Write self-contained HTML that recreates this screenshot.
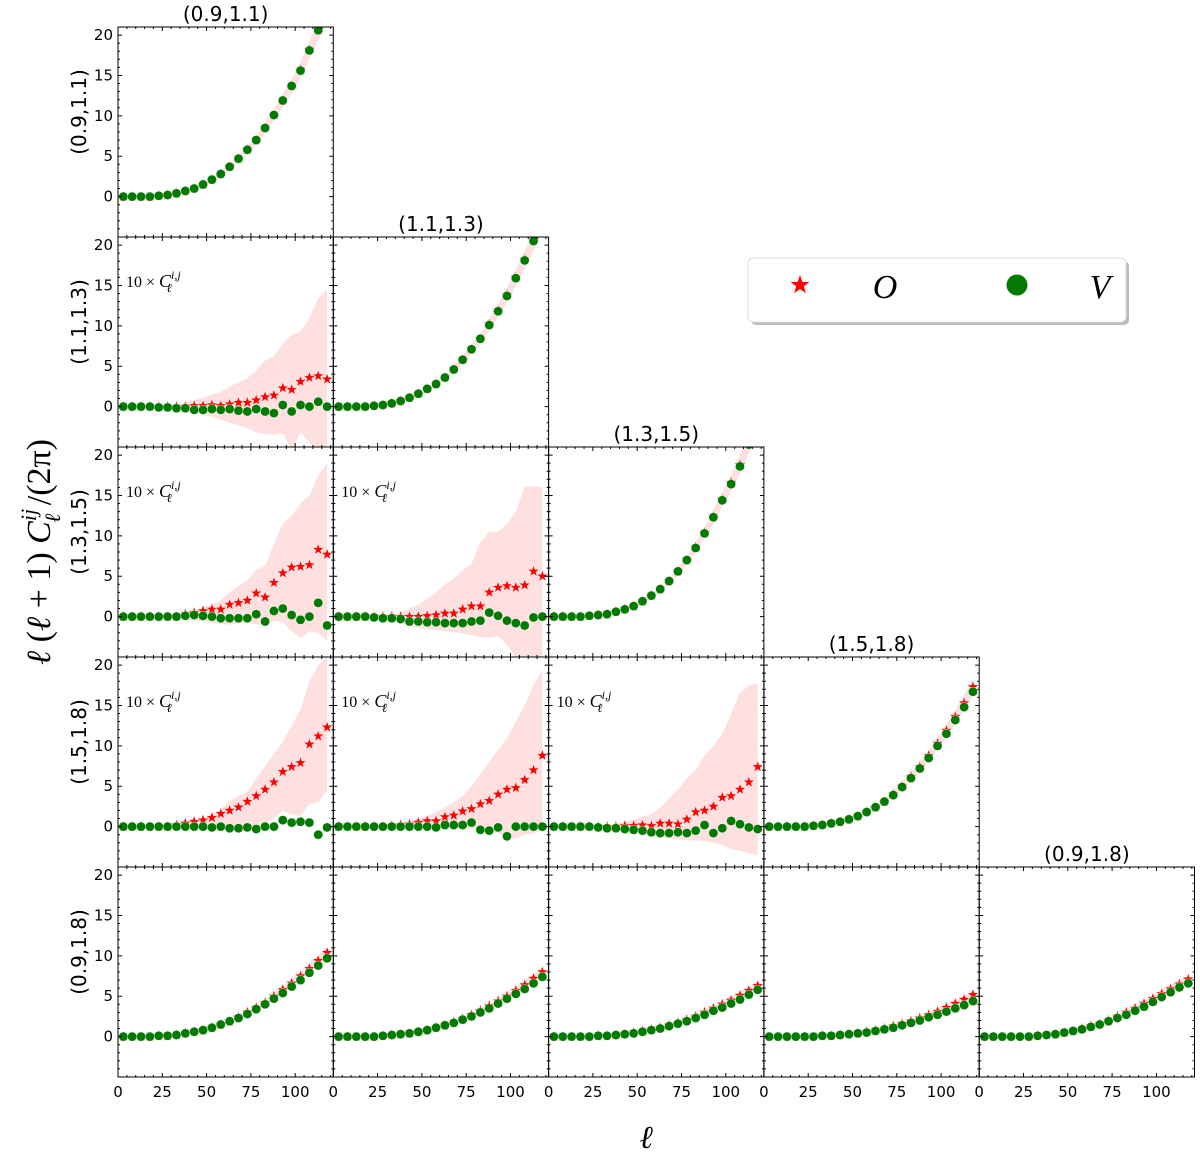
<!DOCTYPE html>
<html><head><meta charset="utf-8"><style>
body{margin:0;background:#fff}
svg text{font-family:"DejaVu Sans","Liberation Sans",sans-serif}
.serif{font-family:"Liberation Serif","DejaVu Serif",serif !important}
</style></head><body>
<svg id="fig" width="1200" height="1164" viewBox="0 0 1200 1164" xmlns="http://www.w3.org/2000/svg">
<g id="bands"></g>
<g id="legend">
<rect x="751" y="261" width="378" height="64" rx="5" fill="#bbb"/>
<rect x="748" y="258" width="378" height="64" rx="5" fill="#fff" stroke="#ddd"/>
<polygon points="800,275 802.4,282 809.5,282 803.8,286.3 805.9,293.2 800,289 794.1,293.2 796.2,286.3 790.5,282 797.6,282" fill="#f00"/>
<text class="serif" x="885" y="298" font-size="34" font-style="italic" text-anchor="middle">O</text>
<circle cx="1017" cy="285" r="10.5" fill="#007a00"/>
<text class="serif" x="1100" y="298" font-size="34" font-style="italic" text-anchor="middle">V</text>
</g>
<text class="serif" transform="translate(50,552) rotate(-90)" font-size="34" text-anchor="middle" font-style="italic">ℓ<tspan font-style="normal"> (</tspan>ℓ<tspan font-style="normal"> + 1) </tspan>C<tspan font-size="22" dy="-14">ij</tspan><tspan font-size="22" dx="-14" dy="24">ℓ</tspan><tspan font-style="normal" dy="-10"> /(2π)</tspan></text>
<text class="serif" x="646" y="1148" font-size="32" font-style="italic" text-anchor="middle">ℓ</text>
</svg>
<script>
const ells=[3,8,13,18,23,28,33,38,43,48,53,58,63,68,73,78,83,88,93,98,103,108,113,118];
const binLabels=["(0.9,1.1)","(1.1,1.3)","(1.3,1.5)","(1.5,1.8)","(0.9,1.8)"];
const yTicks=[0,5,10,15,20];
const xTicks=[0,25,50,75,100];
const diagRelErr=[0,0,0,0,0.05,0.05,0.05,0.05,0.05,0.05,0.05,0.05,0.05,0.05,0.05,0.05,0.05,0.05,0.05,0.05,0.05,0.05,0.05,0.05];
const O00=[0,0,0,0,0.1,0.2,0.4,0.7,1.0,1.5,2.1,2.8,3.7,4.7,5.8,7.0,8.5,10.1,11.9,13.7,15.7,18.2,20.6,23.5];
const V00=[0,0,0,0,0.1,0.2,0.4,0.7,1.0,1.5,2.1,2.8,3.7,4.7,5.8,7.0,8.5,10.1,11.9,13.7,15.6,18.1,20.6,23.5];
const O11=[0,0,0,0,0.1,0.2,0.4,0.7,1.1,1.6,2.2,2.8,3.6,4.6,5.8,7.1,8.4,10.2,11.9,13.8,16.0,18.2,20.6,23.2];
const V11=[0,0,0,0,0.1,0.2,0.4,0.7,1.1,1.6,2.2,2.8,3.6,4.6,5.8,7.1,8.4,10.1,11.8,13.7,15.9,18.1,20.5,23.1];
const O22=[0,0,0,0,0.1,0.2,0.3,0.6,0.9,1.3,1.9,2.6,3.4,4.4,5.6,7.0,8.6,10.4,12.4,14.5,16.6,18.8,21.5,24.5];
const V22=[0,0,0,0,0.1,0.2,0.3,0.6,0.9,1.3,1.9,2.6,3.4,4.4,5.6,7.0,8.5,10.3,12.3,14.4,16.4,18.6,21.3,24.3];
const O33=[0,0,0,0,0,0.1,0.2,0.4,0.6,0.9,1.3,1.8,2.4,3.1,4.0,5.0,6.2,7.4,8.8,10.3,11.9,13.6,15.3,17.3];
const V33=[0,0,0,0,0,0.1,0.2,0.4,0.6,0.9,1.3,1.8,2.4,3.1,3.9,4.9,6.0,7.2,8.5,10.0,11.5,13.2,14.8,16.7];
const O44=[0,0,0,0,0,0,0.1,0.2,0.3,0.5,0.7,1.0,1.3,1.6,2.0,2.5,3.0,3.5,4.1,4.7,5.3,5.9,6.5,7.1];
const V44=[0,0,0,0,0,0,0.1,0.2,0.3,0.5,0.7,0.9,1.2,1.5,1.9,2.3,2.7,3.2,3.7,4.3,4.9,5.5,6.1,6.6];
const O40=[0,0,0,0,0.1,0.1,0.2,0.4,0.6,0.8,1.1,1.5,1.9,2.4,3.0,3.6,4.2,5.0,5.8,6.6,7.5,8.4,9.4,10.4];
const V40=[0,0,0,0,0.1,0.1,0.2,0.4,0.6,0.8,1.1,1.5,1.9,2.3,2.8,3.4,4.0,4.7,5.4,6.2,7.0,7.9,8.8,9.7];
const O41=[0,0,0,0,0,0.1,0.2,0.3,0.4,0.6,0.8,1.1,1.4,1.8,2.2,2.7,3.2,3.8,4.4,5.0,5.7,6.4,7.2,8.0];
const V41=[0,0,0,0,0,0.1,0.2,0.3,0.4,0.6,0.8,1.1,1.4,1.7,2.1,2.5,3.0,3.5,4.1,4.7,5.3,5.9,6.6,7.4];
const O42=[0,0,0,0,0,0.1,0.1,0.2,0.3,0.5,0.7,0.9,1.1,1.4,1.7,2.1,2.5,3.0,3.5,4.0,4.5,5.1,5.7,6.3];
const V42=[0,0,0,0,0,0.1,0.1,0.2,0.3,0.4,0.6,0.8,1.0,1.3,1.6,1.9,2.3,2.7,3.2,3.6,4.1,4.6,5.2,5.8];
const O43=[0,0,0,0,0,0,0.1,0.1,0.2,0.3,0.4,0.6,0.8,1.0,1.3,1.6,1.9,2.3,2.7,3.1,3.6,4.1,4.6,5.2];
const V43=[0,0,0,0,0,0,0.1,0.1,0.2,0.3,0.4,0.5,0.7,0.9,1.1,1.4,1.7,2.0,2.4,2.7,3.1,3.5,3.9,4.4];
const O10=[0,0,0,0,0,0,0,0,0.1,0.1,0.2,0.1,0.3,0.5,0.5,0.8,1.2,1.4,2.3,2.1,3.1,3.6,3.8,3.4];
const V10=[0,0,0,0,-0.1,-0.1,-0.2,-0.2,-0.4,-0.4,-0.3,-0.4,-0.3,-0.5,-0.6,-0.3,-0.6,-0.8,0.2,-0.6,0.2,0,0.6,0];
const H10=[0,0,0,0,0.1,0.2,0.3,0.5,0.8,1.1,1.5,1.8,2.5,3,3.5,4.5,5.7,6.3,7.8,8.9,9.3,11,13.4,14.5];
const L10=[0,0,0,0,-0.1,-0.2,-0.3,-0.5,-0.7,-1,-1.3,-1.6,-2,-2.3,-2.7,-3.2,-3.4,-3.5,-3.3,-5.5,-3.2,-4.5,-5.5,-5.5];
const O20=[0,0,0,0,0,0,0,0.3,0.5,0.7,0.9,0.9,1.5,1.7,2,2.9,2.4,4.2,5.4,6.1,6.2,6.4,8.3,7.7];
const V20=[0,0,0,0,0,0,0,0.1,0.2,0.1,0,-0.2,-0.2,-0.2,-0.2,0.3,-0.6,0.7,1,0.2,-0.4,0,1.7,-1.1];
const H20=[0,0,0,0,0.1,0.2,0.3,0.5,0.8,1.1,1.5,2,3,3.8,4.5,5.8,6.3,9,11.5,12.5,14,15,17.5,19];
const L20=[0,0,0,0,-0.1,-0.1,-0.2,-0.3,-0.5,-0.6,-0.8,-0.9,-1,-0.8,-0.7,-1,-0.9,-0.5,-0.7,-1.8,-2.7,-1.8,-2,-3];
const O21=[0,0,0,0,0,0,0,0,0,0,0.1,0.2,0.4,0.4,0.9,1.3,1.3,3,3.6,3.8,3.6,3.9,5.6,5];
const V21=[0,0,0,0,-0.1,-0.2,-0.2,-0.3,-0.6,-0.6,-0.7,-0.7,-0.8,-0.8,-0.8,-0.6,-0.5,0.5,0.1,-0.5,-0.8,-1.1,-0.1,0];
const H21=[0,0,0,0,0.1,0.2,0.3,0.5,1,1.5,2.2,3,4,4.7,5.8,6.5,9.2,10.5,10.5,11.5,13,16,16.2,16];
const L21=[0,0,0,0,-0.1,-0.3,-0.5,-0.8,-1.1,-1.4,-1.6,-1.7,-1.8,-1.9,-2.1,-2.3,-2.5,-2.6,-2.4,-3.5,-5,-6,-7,-7];
const O30=[0,0,0,0,0,0,0.2,0.4,0.6,0.8,1.1,1.6,2,2.4,3.1,3.8,4.6,5.5,6.8,7.4,7.9,10.2,11.2,12.3];
const V30=[0,0,0,0,0,0,0,0,0,0,-0.1,0,-0.2,-0.2,-0.1,-0.3,0,0,0.8,0.5,0.6,0.5,-1,-0.1];
const H30=[0,0,0,0,0,0.1,0.2,0.4,0.7,1,1.5,2.2,3.2,3.8,4.3,6,7.5,9,10.5,12.5,14.5,18,20,21];
const L30=[0,0,0,0,0,0,0,-0.1,-0.2,-0.3,-0.4,-0.5,-0.4,-0.5,-0.5,-0.4,0.5,1,2,1.5,1.3,2.8,3,4.5];
const O31=[0,0,0,0,0,0,0.1,0.2,0.3,0.5,0.7,0.7,1.2,1.4,1.9,2.2,2.8,3.2,4.0,4.6,4.8,5.8,7.0,8.8];
const V31=[0,0,0,0,0,0,0,0,0,0,0,-0.1,0.2,0.2,0.2,0.5,-0.4,-0.5,-0.1,-1.2,0,0,0,0];
const H31=[0,0,0,0,0,0.1,0.2,0.4,0.7,1,1.4,1.8,2.4,3,3.8,5,6.5,8,9.5,11,13,15,17.5,19.5];
const L31=[0,0,0,0,0,0,0,0,-0.1,-0.1,-0.1,-0.2,-0.2,-0.2,-0.2,-0.3,-0.3,-0.5,-0.8,-1.5,-1.5,-1,-0.8,-0.5];
const O32=[0,0,0,0,0,0,0,0,0.1,0.1,0.2,0.1,0.4,0.4,0.3,0.9,1.8,2,2.5,3.6,3.8,4.6,5.5,7.4];
const V32=[0,0,0,0,0,-0.1,-0.2,-0.2,-0.3,-0.4,-0.5,-0.7,-0.8,-0.8,-0.7,-0.8,-0.5,0.2,-0.8,-0.2,0.7,0.3,-0.1,-0.3];
const H32=[0,0,0,0,0,0.1,0.2,0.4,0.6,0.9,1.2,1.6,2.3,3.5,4.6,6,7,8.8,10,11.5,14,16.5,17.5,17.7];
const L32=[0,0,0,0,0,-0.1,-0.2,-0.3,-0.5,-0.7,-0.9,-1.1,-1.2,-1.4,-1.6,-1.7,-1.7,-1.8,-2,-2.3,-2.8,-3,-3.3,-3.5];

const panels=[
 {r:0,c:0,O:O00,V:V00},{r:1,c:1,O:O11,V:V11},{r:2,c:2,O:O22,V:V22},{r:3,c:3,O:O33,V:V33},{r:4,c:4,O:O44,V:V44},
 {r:4,c:0,O:O40,V:V40},{r:4,c:1,O:O41,V:V41},{r:4,c:2,O:O42,V:V42},{r:4,c:3,O:O43,V:V43},
 {r:1,c:0,O:O10,V:V10,H:H10,L:L10},{r:2,c:0,O:O20,V:V20,H:H20,L:L20},{r:2,c:1,O:O21,V:V21,H:H21,L:L21},
 {r:3,c:0,O:O30,V:V30,H:H30,L:L30},{r:3,c:1,O:O31,V:V31,H:H31,L:L31},{r:3,c:2,O:O32,V:V32,H:H32,L:L32}
];
const NS="http://www.w3.org/2000/svg";
const svg=document.getElementById('fig');
const PW=215.3,PH=210,X0=118,Y0=27,XMAX=121.5,YMIN=-5,YMAX=21;
function mk(t,a,p){const e=document.createElementNS(NS,t);for(const k in a)e.setAttribute(k,a[k]);(p||svg).appendChild(e);return e;}
function sx(c,v){return X0+c*PW+v/XMAX*PW;}
function sy(r,v){return Y0+r*PH+(YMAX-v)/(YMAX-YMIN)*PH;}
function star(cx,cy,R){let p=[];for(let i=0;i<10;i++){const a=-Math.PI/2+i*Math.PI/5;const rr=i%2?R*0.4:R;p.push((cx+rr*Math.cos(a)).toFixed(1)+','+(cy+rr*Math.sin(a)).toFixed(1));}return p.join(' ');}
const defs=mk('defs',{});
panels.forEach((p,idx)=>{
 const px=X0+p.c*PW,py=Y0+p.r*PH;
 const cp=mk('clipPath',{id:'cp'+idx},defs);mk('rect',{x:px,y:py,width:PW,height:PH},cp);
 const g=mk('g',{'clip-path':'url(#cp'+idx+')'});
 
 
 const hi=p.H||p.O.map((v,i)=>v*(1+diagRelErr[i])+0.2);
 const lo=p.L||p.O.map((v,i)=>v*(1-diagRelErr[i])-0.2);
 let d='M'+ells.map((l,i)=>sx(p.c,l)+','+sy(p.r,hi[i])).join(' L');
 d+=' L'+ells.map((l,i)=>sx(p.c,l)+','+sy(p.r,lo[i])).reverse().join(' L')+'Z';
 const band=mk('path',{d:d,fill:'#ffe0e0'},g);
 
 
 ells.forEach((l,i)=>{
  const s=mk('polygon',{points:star(sx(p.c,l),sy(p.r,p.O[i]),6),fill:'#f00',stroke:'#fff','stroke-width':0.4},g);
  
  
 });
 ells.forEach((l,i)=>{
  const c=mk('circle',{cx:sx(p.c,l),cy:sy(p.r,p.V[i]),r:4.6,fill:'#007a00',stroke:'#fff','stroke-width':0.4},g);
  
  
 });
 const fr=mk('rect',{x:px,y:py,width:PW,height:PH,fill:'none',stroke:'#000','stroke-width':1});
 
 
 let td='';
 for(let v=-4;v<=21;v++){const y=sy(p.r,v);const L=(v%5===0)?4:2;td+=`M${px},${y}h${L}M${px+PW},${y}h${-L}`;}
 for(let v=0;v<=120;v+=5){const x=sx(p.c,v);const L=(v%25===0)?4:2;td+=`M${x},${py}v${L}M${x},${py+PH}v${-L}`;}
 mk('path',{d:td,stroke:'#000','stroke-width':1,fill:'none'});
 if(p.c===0){
  yTicks.forEach(v=>{const t=mk('text',{x:px-5,y:sy(p.r,v)+5,'font-size':15,'text-anchor':'end'});t.textContent=v;
   });
  const rl=mk('text',{transform:`translate(86,${py+PH/2-20}) rotate(-90)`,'font-size':20,'text-anchor':'middle'});
  rl.textContent=binLabels[p.r];
  
  
 }
 if(p.r===4){
  xTicks.forEach(v=>{const t=mk('text',{x:sx(p.c,v),y:py+PH+20,'font-size':15,'text-anchor':'middle'});t.textContent=v;
   });
 }
 if(p.r===p.c){
  const tt=mk('text',{x:px+PW/2,y:py-6,'font-size':20,'text-anchor':'middle'});
  tt.textContent=binLabels[p.c];
  
  
 }
 if(p.H){
  const an=mk('text',{x:px+8,y:py+50,'font-size':16,class:'serif'});
  an.innerHTML='10 × <tspan font-style="italic" font-size="18">C</tspan><tspan font-style="italic" font-size="12" dy="-8">i,j</tspan><tspan font-style="italic" font-size="12" dx="-14" dy="13">ℓ</tspan>';
  
  
 }
});
svg.appendChild(document.getElementById('legend'));
</script>
</body></html>
